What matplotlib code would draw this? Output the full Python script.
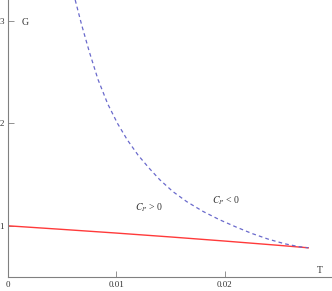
import matplotlib
matplotlib.use("Agg")
from matplotlib import pyplot as plt

# values
t_pos = [0.0, 0.005, 0.01, 0.015, 0.02, 0.025, 0.0277]
g_pos = [1.0, 0.965, 0.929, 0.891, 0.851, 0.809, 0.785]

t_neg = [0.0062, 0.0068, 0.0075, 0.0083, 0.0092, 0.0101, 0.0110, 0.0120,
         0.0130, 0.0140, 0.0152, 0.0165, 0.0180, 0.0195, 0.0210, 0.0225,
         0.0240, 0.0255, 0.0268, 0.0277]
g_neg = [3.205, 2.96, 2.70, 2.43, 2.19, 2.00, 1.84, 1.69,
         1.565, 1.45, 1.335, 1.235, 1.14, 1.06, 0.99, 0.925,
         0.87, 0.825, 0.797, 0.785]

x_ticks = [0, 0.01, 0.02]
x_tick_labels = ["0", "0.01", "0.02"]
y_ticks = [1, 2, 3]
y_tick_labels = ["1", "2", "3"]

plt.rcParams['font.family'] = ['Liberation Serif', 'DejaVu Serif']
plt.rcParams['mathtext.fontset'] = 'stix'

fig = plt.figure(figsize=(3.32, 2.91), dpi=100)
ax = fig.add_axes([8 / 332, 14 / 291, 324 / 332, 277 / 291])

ax.plot(t_pos, g_pos, color='#ff3a3a', linewidth=1.0)
ax.plot(t_neg, g_neg, color='#6a6acc', linewidth=0.9, linestyle=(0, (3, 2.5)))

ax.set_xlim(0, 0.02989)
ax.set_ylim(0.5, 3.205)

for s in ['top', 'right']:
    ax.spines[s].set_visible(False)
for s in ['left', 'bottom']:
    ax.spines[s].set_color('#808080')
    ax.spines[s].set_linewidth(0.8)

ax.set_xticks(x_ticks)
ax.set_xticklabels(x_tick_labels)
ax.set_yticks(y_ticks)
ax.set_yticklabels(y_tick_labels)
ax.tick_params(direction='in', length=4, width=0.6, color='#808080',
               labelsize=6.5, pad=3, labelcolor='#333333')

ax.text(0.00157, 2.99, "G", fontsize=7, color='#333333', ha='center', va='center')
ax.text(0.02878, 0.56, "T", fontsize=7, color='#333333', ha='center', va='center')
ax.text(0.0130, 1.176, r"$C_P$ > 0", fontsize=7, color='#333333', ha='center', va='center')
ax.text(0.0201, 1.244, r"$C_P$ < 0", fontsize=7, color='#333333', ha='center', va='center')

fig.savefig("out.png", dpi=100)
